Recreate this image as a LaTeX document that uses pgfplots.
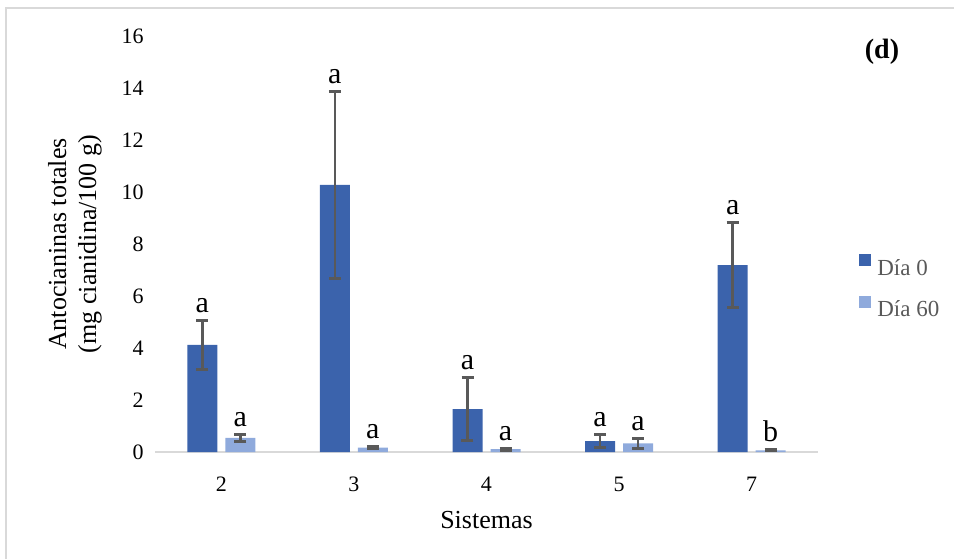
\documentclass[border=0pt]{standalone}
\usepackage{pgfplots}
\pgfplotsset{compat=1.18}
\usepackage{pgfplotstable}
\usepackage{fontspec}
\setmainfont{Liberation Serif}

\definecolor{diaA}{RGB}{59,99,172}
\definecolor{diaB}{RGB}{143,170,220}
\definecolor{errc}{RGB}{89,89,89}
\definecolor{framec}{RGB}{217,217,217}

\pgfplotstableread{
x y err lab
0 4.12 0.95 a
1 10.27 3.58 a
2 1.65 1.20 a
3 0.42 0.24 a
4 7.19 1.65 a
}\tabA
\pgfplotstableread{
x y err lab
0 0.54 0.15 a
1 0.17 0.05 a
2 0.11 0.04 a
3 0.33 0.19 a
4 0.06 0.02 b
}\tabB

\pgfplotsset{
  barlab/.style={
    draw=none, fill=none, forget plot,
    nodes near coords, point meta=explicit symbolic,
    every node near coord/.append style={anchor=base, inner sep=0pt, black,
       font=\fontsize{30}{35}\selectfont, yshift=8pt}
  },
  errstyle/.style={
    error bars/.cd, y dir=both, y explicit,
    error bar style={draw=errc, line width=2.6pt},
    error mark options={draw=errc, line width=3pt, mark size=6pt, rotate=90}
  }
}

\begin{document}
\begin{tikzpicture}[x=1pt,y=1pt]
\useasboundingbox (0,0) rectangle (954,558);
\draw[framec, line width=1.5pt] (6,-5) -- (6,550) -- (960,550);
\begin{axis}[
  at={(155pt,106pt)}, anchor=south west,
  scale only axis, width=663pt, height=416pt,
  xmin=-0.5, xmax=4.5, ymin=0, ymax=16,
  ybar, bar width=30pt,
  axis x line=bottom, axis y line=left,
  x axis line style={-, framec, line width=2pt},
  y axis line style={draw=none},
  tick style={draw=none},
  xtick={0,1,2,3,4}, xticklabels={2,3,4,5,7},
  ytick={0,2,...,16},
  /pgf/number format/assume math mode=true,
  tick label style={font=\fontsize{22}{26}\selectfont, black, inner sep=0pt},
  yticklabel shift=9pt,
  xticklabel shift=23pt,
  xlabel={Sistemas},
  xlabel style={font=\fontsize{26}{31}\selectfont, at={(axis description cs:0.5,0)}, anchor=base, yshift=-76pt, inner sep=0pt},
  ylabel={Antocianinas totales\\(mg cianidina/100 g)},
  ylabel style={font=\fontsize{26}{30}\selectfont, align=center, at={(axis description cs:-0.08,0.5)}, anchor=south, inner sep=0pt},
  legend style={at={(axis description cs:1.062,0.399)}, anchor=west, draw=none, fill=none,
    font=\fontsize{23}{27}\selectfont, text=errc, inner sep=0pt, row sep=19pt,
    nodes={inner sep=0pt}},
  legend cell align=left,
  clip=false,
]
\addplot[fill=diaA, draw=none, bar shift=-19pt,
  legend image code/.code={\fill[diaA] (0pt,1.5pt) rectangle (12pt,13.5pt);},
  errstyle]
  table[x=x, y=y, y error=err]{\tabA};
\addlegendentry{\hspace{6pt}Día 0}
\addplot[fill=diaB, draw=none, bar shift=19pt,
  legend image code/.code={\fill[diaB] (0pt,1.5pt) rectangle (12pt,13.5pt);},
  errstyle]
  table[x=x, y=y, y error=err]{\tabB};
\addlegendentry{\hspace{6pt}Día 60}
\addplot[barlab, bar shift=-19pt]
  table[x=x, y expr=\thisrow{y}+\thisrow{err}, meta=lab]{\tabA};
\addplot[barlab, bar shift=19pt]
  table[x=x, y expr=\thisrow{y}+\thisrow{err}, meta=lab]{\tabB};
\end{axis}
\node[font=\bfseries\fontsize{28}{32}\selectfont, inner sep=0pt] at (882,506) {(d)};
\end{tikzpicture}
\end{document}
